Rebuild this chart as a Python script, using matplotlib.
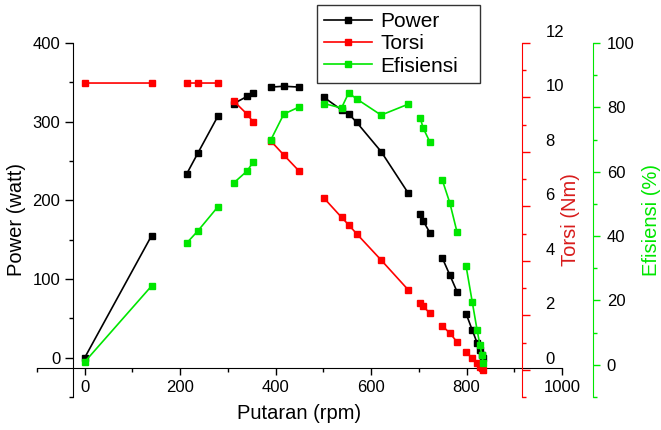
import numpy as np
import matplotlib
matplotlib.use('Agg')
import matplotlib.pyplot as plt
from matplotlib import transforms
from matplotlib.ticker import MultipleLocator

nan = np.nan

# measured data, nan rows = gaps between measurement groups
putaran = [0, 140, nan, 214, 237, 279, nan, 312, 340, 353, nan, 390, 417, 449, nan,
           501, 538, 553, 570, 621, 678, nan, 703, 709, 723, nan, 749, 765, 780, nan,
           799, 812, 822, 828, 832, 835]
power = [0, 155, nan, 234, 260, 307, nan, 323, 332, 336, nan, 344, 345, 344, nan,
         331, 315, 310, 299, 262, 209, nan, 182, 174, 159, nan, 127, 105, 84, nan,
         56, 35, 19, 10, 4, 0]
torsi = [10.53, 10.53, nan, 10.53, 10.53, 10.53, nan, 9.87, 9.39, 9.10, nan, 8.40, 7.89, 7.30, nan,
         6.31, 5.60, 5.32, 4.99, 4.03, 2.93, nan, 2.45, 2.33, 2.08, nan, 1.61, 1.35, 1.02, nan,
         0.65, 0.42, 0.25, 0.12, 0.05, 0.0]
efisiensi = [0.9, 24.5, nan, 37.9, 41.6, 49.1, nan, 56.5, 60.2, 63.0, nan, 69.9, 77.9, 80.1, nan,
             81.2, 79.8, 84.5, 82.6, 77.6, 81.0, nan, 76.7, 73.6, 69.3, nan, 57.5, 50.3, 41.3, nan,
             30.7, 19.5, 10.9, 6.2, 3.1, 0.6]

plt.rcParams['font.family'] = 'Liberation Sans'

RED = '#ff0000'
GREEN = '#00e600'

fig = plt.figure(figsize=(6.61, 4.30), dpi=100)
ax = fig.add_axes([37/661, 1-397/430, 525/661, 354/430])
ax.patch.set_visible(False)

# Power layer
l1, = ax.plot(putaran, power, color='k', marker='s', ms=5, lw=1.2, label='Power')
ax.set_xlim(-100, 1000)
ax.set_ylim(-50, 400)
ax.spines['top'].set_visible(False)
ax.spines['right'].set_visible(False)
ax.spines['left'].set_position(('data', -25))
ax.spines['bottom'].set_position(('data', -13))
ax.xaxis.set_major_locator(MultipleLocator(200))
ax.xaxis.set_minor_locator(MultipleLocator(100))
ax.yaxis.set_major_locator(MultipleLocator(100))
ax.yaxis.set_minor_locator(MultipleLocator(50))
ax.tick_params(axis='y', which='major', length=5.5, width=1, labelsize=12, pad=3.5)
ax.tick_params(axis='x', which='major', length=5, width=1, labelsize=12, pad=4)
ax.tick_params(which='minor', length=3, width=1)
ax.set_xlabel('Putaran (rpm)', fontsize=14.5)
ax.xaxis.set_label_coords(0.5, -0.02)
ax.set_ylabel('Power (watt)', fontsize=14.5)
ax.yaxis.set_label_coords(-0.02, 0.5)

# Torsi layer
ax_t = ax.twinx()
l2, = ax_t.plot(putaran, torsi, color=RED, marker='s', ms=5, lw=1.2, label='Torsi')
ax_t.set_ylim(-1, 12)
for s in ['top', 'left', 'bottom']:
    ax_t.spines[s].set_visible(False)
ax_t.spines['right'].set_position(('axes', 0.924))
ax_t.spines['right'].set_color(RED)
ax_t.yaxis.set_major_locator(MultipleLocator(2))
ax_t.yaxis.set_minor_locator(MultipleLocator(1))
ax_t.tick_params(axis='y', which='major', length=5.8, width=1, color=RED, labelsize=12, pad=11)
ax_t.tick_params(axis='y', which='minor', length=3, width=1, color=RED)
ax_t.set_ylabel('Torsi (Nm)', fontsize=14.5, color='#d81c1c')
ax_t.yaxis.set_label_coords(0.999, 0.5)

# Efisiensi layer
ax_e = ax.twinx()
l3, = ax_e.plot(putaran, efisiensi, color=GREEN, marker='s', ms=5, lw=1.2, label='Efisiensi')
ax_e.set_ylim(-10, 100)
for s in ['top', 'left', 'bottom']:
    ax_e.spines[s].set_visible(False)
ax_e.spines['right'].set_position(('axes', 1.059))
ax_e.spines['right'].set_color(GREEN)
ax_e.yaxis.set_major_locator(MultipleLocator(20))
ax_e.yaxis.set_minor_locator(MultipleLocator(10))
ax_e.tick_params(axis='y', which='major', length=5, width=1, color=GREEN, labelsize=12, pad=5)
ax_e.tick_params(axis='y', which='minor', length=3, width=1, color=GREEN)
ax_e.set_ylabel('Efisiensi (%)', fontsize=14.5, color=GREEN)
ax_e.yaxis.set_label_coords(1.152, 0.5)

# torsi tick labels sit half a step above their ticks in the original
shift = transforms.ScaledTranslation(0, 0.12, fig.dpi_scale_trans)
for tick in ax_t.yaxis.get_major_ticks():
    tick.label2.set_transform(tick.label2.get_transform() + shift)

leg = ax_e.legend(handles=[l1, l2, l3], loc='upper left',
                  bbox_to_anchor=(317/661, 1-5/430, 163/661, 0), bbox_transform=fig.transFigure,
                  mode='expand', fontsize=15, frameon=True, fancybox=False, framealpha=1,
                  edgecolor='#333333', handlelength=2.3, handletextpad=0.4,
                  labelspacing=0.15, borderpad=0.35, borderaxespad=0, numpoints=1)
leg.get_frame().set_linewidth(1)

fig.savefig('out.png', dpi=100)
